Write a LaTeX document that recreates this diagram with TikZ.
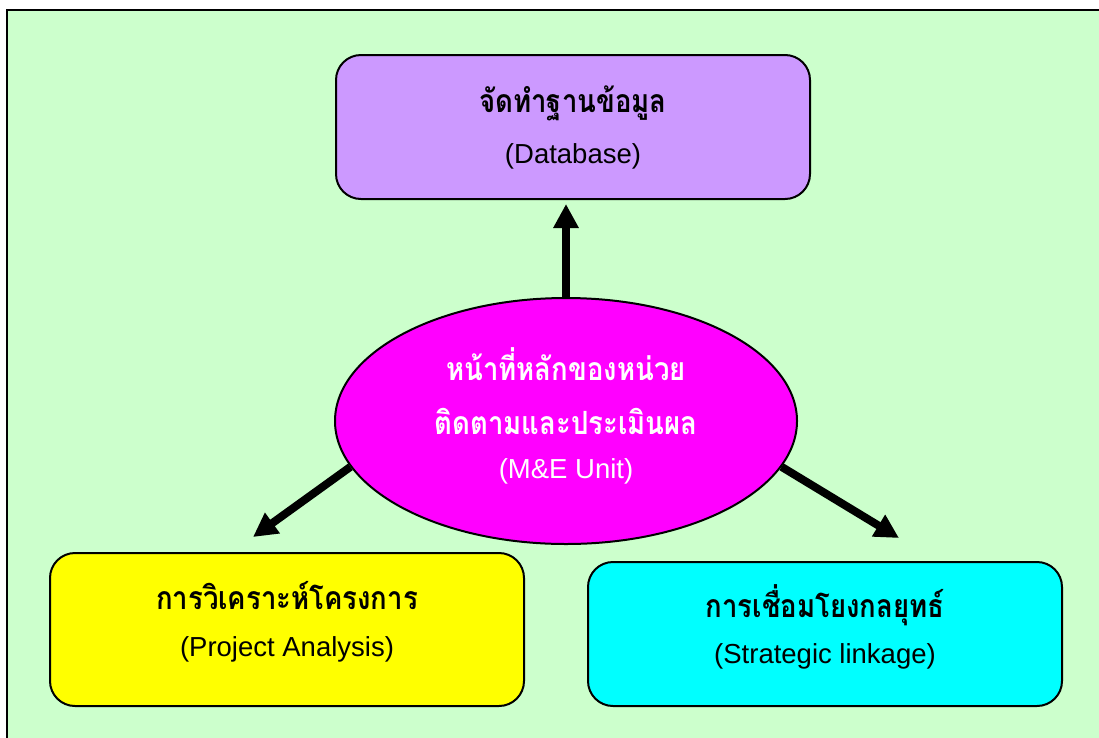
\documentclass[tikz,border=0pt]{standalone}
\usepackage{fontspec}
\setmainfont{Liberation Sans}
\newfontfamily\thaifont[Script=Thai, FakeStretch=0.86]{Loma}
\usetikzlibrary{arrows.meta,shapes.geometric}

\definecolor{bggreen}{HTML}{CCFFCC}
\definecolor{dbpurple}{HTML}{CC99FF}
\definecolor{unitpink}{HTML}{FF00FF}
\definecolor{payellow}{HTML}{FFFF00}
\definecolor{slcyan}{HTML}{00FFFF}

\tikzset{
  box/.style={draw, line width=2pt, rounded corners=25pt, minimum width=474pt, inner sep=0pt},
  thai/.style={font=\thaifont\bfseries\fontsize{32}{36}\selectfont},
  eng/.style={font=\fontsize{27.5}{31}\selectfont},
  bigarrow/.style={line width=8pt, -{Triangle[length=24pt,width=24pt]}},
}

\begin{document}
\begin{tikzpicture}[x=1pt, y=-1pt]

\useasboundingbox (0,0) rectangle (1099,737);
\clip (0,0) rectangle (1099,737);
\draw[fill=bggreen, line width=2.5pt] (7,10) rectangle (1130,770);

% top box
\node[box, fill=dbpurple, minimum height=144pt] (db) at (573,127) {};
\node[thai] (dbth) at (573,103) {จัดทำฐานข้อมูล};
\node[eng] (dben) at (573,156) {(Database)};

% centre
\node[ellipse, draw, line width=2pt, fill=unitpink, minimum width=462pt, minimum height=246pt, inner sep=0pt] (unit) at (566,421) {};
\node[thai, text=white] (unitth) at (566,364) {หน้าที่หลักของหน่วย};
\node[thai, text=white] (unitth2) at (566,421) {ติดตามและประเมินผล};
\node[eng, text=white] (uniten) at (566,471) {(M\&E Unit)};

% bottom boxes
\node[box, fill=payellow, minimum height=153pt] (pa) at (287,629.5) {};
\node[thai] (path) at (287,596) {การวิเคราะห์โครงการ};
\node[eng] (paen) at (287,649) {(Project Analysis)};

\node[box, fill=slcyan, minimum height=144pt] (sl) at (825,634) {};
\node[thai] (slth) at (825,605) {การเชื่อมโยงกลยุทธ์};
\node[eng] (slen) at (825,656) {(Strategic linkage)};

% arrows
\coordinate (paTip) at (253,537);
\coordinate (slTip) at (899,538);
\draw[bigarrow, shorten >=4pt] (unit.north) -- (unit.north |- db.south);
\draw[bigarrow] (unit.192) -- (paTip);
\draw[bigarrow] (unit.348) -- (slTip);

\end{tikzpicture}
\end{document}
